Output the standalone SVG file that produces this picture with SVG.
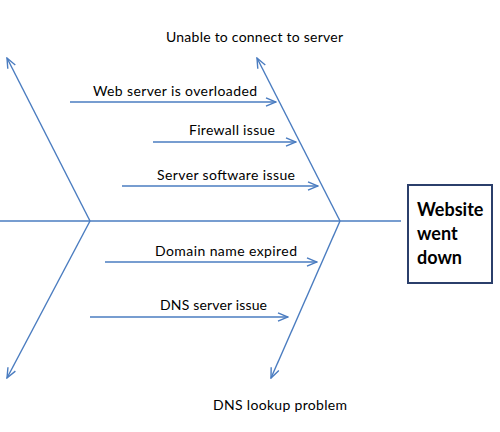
<svg xmlns="http://www.w3.org/2000/svg" width="500" height="432" viewBox="0 0 500 432">
<defs>
<style>
.ln{stroke:#4A7CC0;stroke-width:1.4;fill:none}
.ar{marker-end:url(#arr)}
.t{font-family:Lato,"Open Sans","Liberation Sans",sans-serif;font-size:14px;fill:#000}
.b{font-family:Lato,"Liberation Sans",Arial,sans-serif;font-size:18px;font-weight:bold;fill:#000}
</style>
<marker id="arr" viewBox="0 0 12 10" refX="11" refY="5" markerWidth="12" markerHeight="10" markerUnits="userSpaceOnUse" orient="auto">
<polyline points="1,0.8 11,5 1,9.2" fill="none" stroke="#4A7CC0" stroke-width="1.4"/>
</marker>
</defs>
<rect width="500" height="432" fill="#fff"/>
<g id="connectors">
<line class="ln" x1="0" y1="221" x2="401" y2="221"/>
<line class="ln ar" x1="90" y1="221" x2="7" y2="58"/>
<line class="ln ar" x1="90" y1="221" x2="7" y2="378"/>
<line class="ln ar" x1="340" y1="221" x2="257" y2="58"/>
<line class="ln ar" x1="340" y1="221" x2="271" y2="378"/>
<line class="ln ar" x1="70" y1="102" x2="276" y2="102"/>
<line class="ln ar" x1="153" y1="142" x2="296" y2="142"/>
<line class="ln ar" x1="122" y1="186" x2="318" y2="186"/>
<line class="ln ar" x1="105" y1="262" x2="317" y2="262"/>
<line class="ln ar" x1="90" y1="317" x2="288" y2="317"/>
</g>
<g id="effect">
<rect x="408" y="185" width="84" height="98" fill="#fff" stroke="#2B3F6B" stroke-width="2"/>
<text class="b" x="417" y="216">Website</text>
<text class="b" x="417" y="240">went</text>
<text class="b" x="417" y="264">down</text>
</g>
<g id="cat-unable"><text class="t" x="166" y="42" textLength="177">Unable to connect to server</text></g>
<g id="cat-dns"><text class="t" x="213" y="410" textLength="134">DNS lookup problem</text></g>
<g id="c1"><text class="t" x="93" y="96" textLength="164">Web server is overloaded</text></g>
<g id="c2"><text class="t" x="189" y="135" textLength="86">Firewall issue</text></g>
<g id="c3"><text class="t" x="157" y="180" textLength="138">Server software issue</text></g>
<g id="c4"><text class="t" x="155" y="256" textLength="142">Domain name expired</text></g>
<g id="c5"><text class="t" x="160" y="310" textLength="107">DNS server issue</text></g>
</svg>
